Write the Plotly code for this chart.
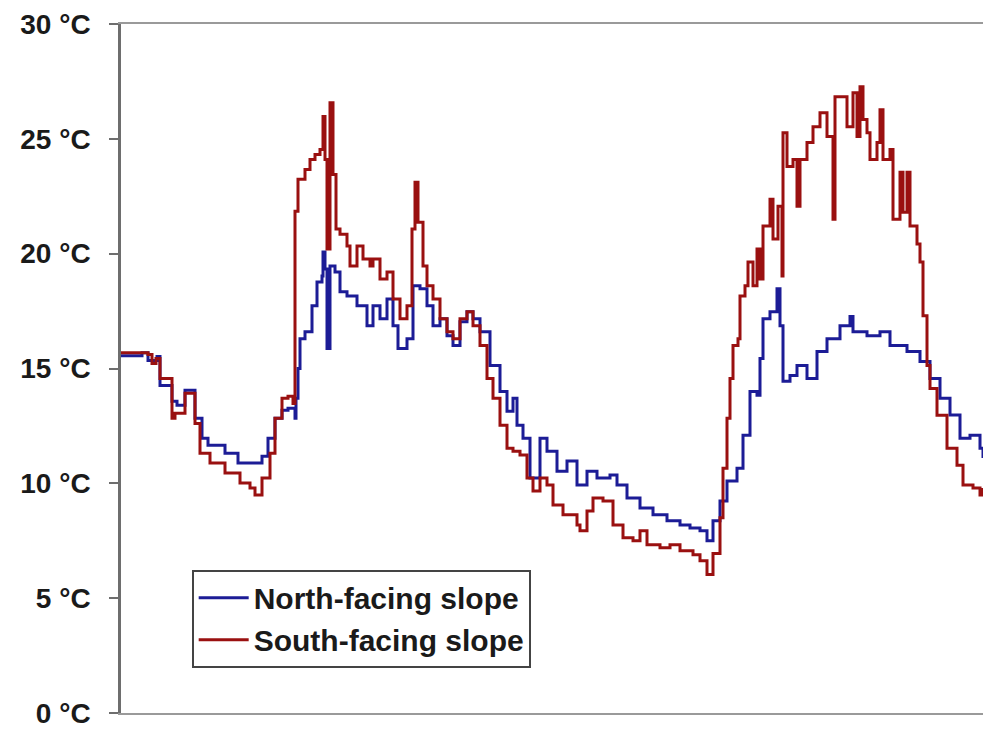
import plotly.graph_objects as go

# time index (arbitrary units, no x labels shown in the original)
north_t = [0, 21, 27, 36, 39, 51, 56, 64, 74, 81, 87, 104, 117, 131, 141, 147, 154, 161, 167, 174,
           175, 177, 179, 184, 191, 196, 201, 202, 204, 206, 209, 214, 219, 226, 236, 246, 252, 259,
           266, 272, 277, 286, 292, 299, 306, 312, 319, 326, 332, 339, 346, 352, 359, 369, 379, 386,
           392, 396, 402, 409, 419, 426, 436, 446, 456, 466, 476, 489, 496, 506, 519, 532, 546, 559,
           569, 579, 586, 592, 599, 606, 616, 622, 629, 636, 639, 642, 649, 656, 659, 662, 669, 676,
           686, 696, 706, 719, 729, 732, 746, 759, 769, 786, 799, 809, 819, 829, 839, 849, 859, 862]
north_temp = [15.56, 15.69, 15.35, 15.52, 14.26, 13.57, 13.40, 14.05, 12.83, 11.96, 11.66, 11.31,
              10.88, 10.88, 11.18, 11.96, 12.83, 13.18, 13.27, 12.83, 13.70, 15.0, 16.30, 16.60,
              17.73, 18.77, 19.03, 20.07, 19.33, 15.87, 19.46, 19.20, 18.34, 18.16, 17.73, 16.86,
              17.73, 17.17, 18.03, 16.86, 15.87, 16.30, 18.60, 18.47, 17.73, 16.86, 17.17, 16.43,
              16.00, 17.04, 17.47, 17.17, 16.60, 15.13, 14.00, 13.14, 13.70, 12.53, 11.96, 10.23,
              11.96, 11.40, 10.53, 10.97, 9.93, 10.53, 10.23, 10.36, 9.93, 9.36, 8.93, 8.63, 8.37,
              8.19, 8.06, 7.93, 7.50, 8.37, 9.23, 10.10, 10.66, 12.09, 14.00, 13.83, 15.43, 17.17,
              17.47, 18.47, 16.86, 14.44, 14.70, 15.13, 14.57, 15.74, 16.30, 16.86, 17.26, 16.60,
              16.43, 16.60, 16.00, 15.74, 15.30, 14.57, 13.70, 12.97, 11.96, 12.09, 11.53, 11.10]

south_t = [0, 27, 31, 35, 39, 51, 54, 64, 74, 79, 89, 104, 119, 129, 134, 141, 149, 154, 161, 167,
           172, 174, 177, 184, 189, 194, 199, 202, 204, 206, 209, 212, 215, 219, 226, 229, 236, 242,
           249, 252, 259, 266, 272, 279, 286, 291, 294, 297, 302, 306, 312, 319, 326, 332, 339, 346,
           352, 359, 366, 372, 379, 386, 392, 399, 406, 412, 419, 426, 432, 442, 456, 459, 466, 472,
           482, 492, 502, 512, 519, 526, 539, 549, 559, 572, 579, 586, 592, 599, 602, 606, 609, 612,
           617, 619, 624, 627, 632, 636, 639, 642, 649, 652, 657, 661, 662, 666, 672, 676, 679, 686,
           692, 699, 706, 712, 714, 719, 726, 732, 736, 739, 742, 746, 749, 756, 759, 762, 769, 772,
           779, 782, 786, 789, 796, 799, 802, 806, 809, 816, 826, 836, 842, 852, 859, 862]
south_temp = [15.69, 15.61, 15.22, 15.43, 14.57, 12.83, 13.05, 13.92, 12.61, 11.31, 10.88, 10.45,
              10.01, 9.80, 9.49, 10.23, 11.31, 12.83, 13.70, 13.79, 13.48, 21.85, 23.24, 23.67,
              24.10, 24.32, 24.54, 25.97, 24.10, 20.20, 26.57, 23.45, 21.07, 20.85, 20.33, 19.46,
              20.33, 19.77, 19.46, 19.77, 18.90, 19.20, 18.03, 17.17, 17.73, 21.07, 23.11, 21.37,
              19.46, 18.60, 18.03, 17.17, 16.60, 16.30, 17.17, 17.47, 16.86, 16.00, 14.57, 13.70,
              12.53, 11.53, 11.40, 11.23, 10.23, 9.67, 10.23, 9.93, 9.06, 8.63, 8.19, 7.93, 8.80,
              9.36, 9.23, 8.19, 7.63, 7.50, 7.93, 7.33, 7.20, 7.33, 7.07, 6.89, 6.63, 6.03, 6.94,
              8.50, 10.66, 12.83, 14.57, 16.00, 16.30, 18.16, 18.60, 19.64, 18.60, 20.20, 18.90,
              21.20, 22.37, 20.64, 22.07, 19.03, 25.27, 23.80, 24.10, 22.07, 24.10, 24.84, 25.53,
              26.14, 25.10, 21.50, 26.83, 26.83, 25.53, 27.01, 25.10, 27.27, 25.84, 25.27, 24.10,
              24.84, 26.27, 24.10, 24.54, 21.50, 23.54, 21.80, 23.54, 21.20, 20.42, 19.64, 17.30,
              15.13, 14.13, 12.96, 11.53, 10.79, 9.93, 9.80, 9.49, 9.80]

y_ticks = [0, 5, 10, 15, 20, 25, 30]
y_tick_text = ["0 °C", "5 °C", "10 °C", "15 °C", "20 °C", "25 °C", "30 °C"]

FONT = "Liberation Sans, Arial, sans-serif"

fig = go.Figure()
fig.add_trace(go.Scatter(x=north_t, y=north_temp, mode="lines", name="North-facing slope",
                         line=dict(color="#1c1c96", width=3, shape="hv")))
fig.add_trace(go.Scatter(x=south_t, y=south_temp, mode="lines", name="South-facing slope",
                         line=dict(color="#9a1010", width=3, shape="hv")))

fig.update_layout(
    width=983, height=729,
    margin=dict(l=121, r=0, t=24, b=13),
    paper_bgcolor="white", plot_bgcolor="white",
    font=dict(family=FONT, color="#1a1a1a"),
    showlegend=True,
    legend=dict(x=0.082, y=0.208, xanchor="left", yanchor="top",
                bordercolor="#444444", borderwidth=2, bgcolor="white",
                font=dict(size=30, family=FONT, color="#1a1a1a", weight="bold"),
                tracegroupgap=0, itemwidth=50),
    xaxis=dict(range=[0, 862], showgrid=False, zeroline=False, showticklabels=False,
               ticks="", showline=True, linecolor="#9a9a9a", linewidth=2, mirror=True),
    yaxis=dict(range=[0, 30], tickmode="array", tickvals=y_ticks, ticktext=y_tick_text,
               showgrid=False, zeroline=False, showline=True, linecolor="#6e6e6e",
               linewidth=2.5, ticks="outside", ticklen=9, tickwidth=2, tickcolor="#6e6e6e",
               ticklabelstandoff=13, ticklabeloverflow="allow",
               tickfont=dict(size=28, family=FONT, color="#1a1a1a", weight="bold")),
)

fig.write_html("out.html")
